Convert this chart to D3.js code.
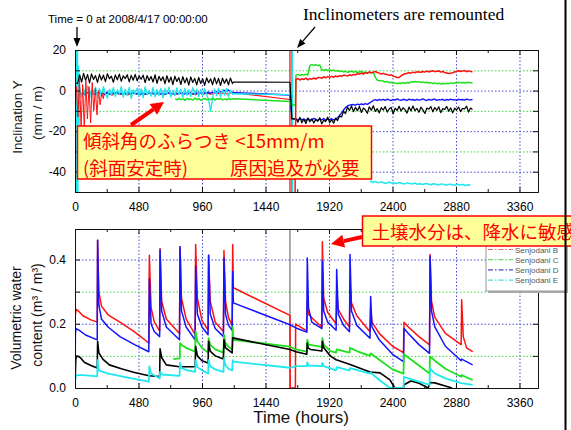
<!DOCTYPE html>
<html><head><meta charset="utf-8">
<script src="https://cdn.jsdelivr.net/npm/d3@7"></script>
<style>
html,body{margin:0;padding:0;background:#fff;}
svg{display:block;}
</style></head><body>
<svg id="c" width="571" height="430" font-family="Liberation Sans, Arial, sans-serif"></svg>
<script>
// ---------------- axis / tick data ----------------
const xMajorTicks = [0, 480, 960, 1440, 1920, 2400, 2880, 3360];
const xMinorTicks = [240, 720, 1200, 1680, 2160, 2640, 3120];
const incTicks = [-50, -40, -30, -20, -10, 0, 10, 20];
const incLabels = [-40, -20, 0, 20];
const incGreenGrid = [10, -10, -30];
const incBlueGrid = [0, -20, -40];
const vwcTicks = [0, 0.1, 0.2, 0.3, 0.4];
const vwcLabels = [0, 0.2, 0.4];
const vwcGreenGrid = [0.1, 0.3];
const vwcBlueGrid = [0.2, 0.4];
const remountHours = [1625, 1640];
const legendNames = ["Senjodani B", "Senjodani C", "Senjodani D", "Senjodani E"];

// ---------------- inclination (mm/m), sampled every 15 h unless paired ----------------
const STEP = 15;
const blackIncHead = [[8, 3.6]];
const blackInc1 = [3.5,7.8,4.2,8.5,5.0,7.9,3.8,8.2,5.5,7.4,4.0,8.0,5.2,7.6,4.4,8.3,5.8,7.1,4.1,7.7,
  5.3,8.1,4.6,7.3,5.9,7.8,4.3,7.5,5.1,8.0,4.8,7.2,5.6,7.6,3.9,7.4,5.0,6.9,4.2,7.8,
  3.6,7.0,4.9,6.8,3.4,7.3,4.1,6.6,2.9,7.1,4.5,6.4,3.0,6.9,3.8,6.2,2.7,6.7,4.0,6.0,
  2.8,6.5,3.5,5.9,2.6,6.3,3.9,5.8,2.9,6.4,3.3,6.0,2.5,6.1,3.6,5.7,2.8,6.2,3.4];
const blackIncMid = [[1197, 4.2], [1625, 4.1], [1640, -14.0]];
const blackInc2 = [-13.8,-15.6,-13.2,-15.9,-14.0,-16.2,-13.5,-15.4,-13.9,-16.0,-14.2,-15.1,-13.4,-16.4,-14.6,-15.2,-13.1,-15.8,-14.3,-16.1,-13.6,
  -14.8,-12.5,-13.0,-10.2,-11.4,-8.1,-9.8,-7.6,
  -10.4,-8.2,-9.9,-7.8,-10.8,-8.6,-9.5,-11.2,-8.0,-9.7,
  -7.5,-10.3,-8.9,-11.0,-8.4,-9.6,-7.9,-10.6,-9.1,-8.3,
  -11.4,-8.7,-9.8,-7.7,-10.1,-8.5,-9.4,-11.1,-8.1,-10.0,
  -7.6,-9.9,-8.8,-10.7,-8.2,-9.5,-11.3,-8.6,-9.2,-7.9,
  -10.5,-8.4,-9.7,-8.0,-10.9,-8.9,-9.3,-7.8,-10.2,-8.5,
  -11.0,-8.7,-9.6,-8.1,-10.4,-8.8,-9.1,-7.7,-10.6,-8.6,-9.4];

const blueInc1 = [-1.2,-0.6,-1.8,-1.0,-2.1,-1.3,-0.8,-1.7,-1.1,-1.9,-1.4,-0.9,-1.6,-1.2,-2.0,-1.0,-1.5,-1.8,-1.1,-1.4,
  -0.9,-1.7,-1.3,-1.9,-1.2,-1.6,-1.0,-1.8,-1.4,-1.1,-1.7,-1.3,-2.0,-1.2,-1.5,-1.8,-1.0,-1.6,-1.3,-1.9,
  -1.4,-1.1,-1.7,-1.2,-1.8,-1.5,-1.0,-1.6,-1.3,-1.9,-1.2,-1.7,-1.4,-1.1,-1.8,-1.3,-1.6,-1.0,-1.5,-1.7,
  -1.2,-1.4,-1.0,-1.6,-1.1,-1.3,-0.8,-1.4,-0.9,-1.2,-0.5,-1.0,-0.3,-0.9,0.2,-0.6,0.4,-0.4,-0.8,-1.0];
const blueIncMid = [[1205, -1.0], [1625, -2.2], [1640, -14.0]];
const blueInc2 = [-14.0,-14.6,-13.8,-14.4,-14.1,-14.7,-13.9,-14.3,-14.5,-13.7,-14.2,-14.8,-14.0,-14.4,-13.8,-14.6,-14.1,-14.3,-13.9,-14.5,-14.0,
  -13.5,-12.2,-11.0,-9.6,-8.4,-7.6,-7.2,-7.0,
  -6.9,-7.2,-6.7,-7.0,-6.6,-6.9,-6.4,-6.8,-6.2,-5.6,
  -4.8,-4.5,-4.9,-4.4,
  -4.7,-4.3,-4.8,-4.2,-4.6,-4.9,-4.4,-4.7,-4.1,-4.6,
  -4.8,-4.3,-4.5,-4.9,-4.2,-4.6,-4.4,-4.8,-4.3,-4.7,
  -4.5,-4.1,-4.6,-4.9,-4.3,-4.7,-4.4,-4.2,-4.8,-4.5,
  -4.6,-4.3,-4.9,-4.4,-4.7,-4.2,-4.6,-4.5,-4.8,-4.3,
  -4.6,-4.4,-4.7,-4.2,-4.5,-4.6,-4.4];

const greenInc1 = [-4.0,-4.6,-3.8,-4.5,-4.1,-4.8,-3.9,-4.4,-4.2,-4.7,
  -3.7,-4.5,-4.0,-4.8,-4.2,-3.9,-4.6,-4.1,-4.4,-3.8,
  -4.7,-4.0,-4.3,-3.9,-4.6,-4.2,-4.5,-3.8,-4.4,-4.1];
const greenIncMid = [[1200, -4.0], [1625, -5.4], [1630, -7.0], [1666, -7.2]];
const greenInc2 = [7.6,8.0,7.5,7.9,7.7,8.1,7.6,
  12.4,12.8,12.5,12.7,12.3,12.6,
  10.3,10.0,10.4,9.9,10.2,9.8,10.1,
  9.6,9.9,9.4,9.7,9.2,9.5,9.0,9.3,9.6,9.1,9.4,8.9,9.2,9.5,8.8,9.1,8.7,9.0,8.6,8.9,
  6.5,5.2,4.8,5.0,
  4.6,4.2,4.5,3.9,4.1,3.6,3.8,3.4,3.7,3.5,
  3.9,3.6,4.0,3.7,4.3,4.1,4.5,4.2,4.4,4.0,
  4.3,3.9,4.1,3.7,3.9,3.5,3.8,3.4,3.6,3.2,
  3.5,3.3,3.6,3.4,3.8,3.5,3.9,3.7,4.1,3.8,
  4.0,3.7,3.9,4.1,3.8,3.9];

const redIncSpikes = [2,-13,6,-18,3,-19,5,-14,2,-16,4,-10,1,-12,0,-7,-1,-4]; // every 12 h from 10 h
const redInc1 = [-1.8,-1.2,-2.3,-1.0,-1.9,-1.4,-2.2,-1.1,-1.7,-1.3,
  -2.0,-1.5,-1.1,-1.8,-1.4,-2.1,-1.2,-1.6,-1.9,-1.3,
  -1.7,-1.0,-1.5,-2.0,-1.2,-1.6,-1.4,-1.8,-1.1,-1.5,
  -1.3,-1.7,-1.0]; // every 30 h from 220 h
const redIncMid = [[1200, -1.0], [1625, -4.4]];
const redInc2Head = [[1664, -50]];
const redInc2 = [5.4,6.0,5.2,5.8,5.5,6.1,5.3,5.9,5.6,6.2,
  5.7,6.3,6.5,6.0,6.8,6.3,6.9,6.5,7.0,6.6,
  7.2,6.8,7.4,7.0,7.6,7.5,7.1,7.8,7.4,8.0,
  7.7,8.3,8.2,8.6,8.1,8.9,8.5,9.2,8.8,9.1,
  9.4,8.9,8.6,8.2,8.5,8.0,7.9,7.5,7.8,7.1,
  6.9,6.4,6.5,7.2,7.9,8.3,8.5,8.8,8.6,9.1,
  8.8,9.3,9.2,9.0,9.4,9.1,9.6,9.2,9.5,9.8,
  9.3,9.5,9.7,9.1,9.4,8.9,8.7,8.4,8.5,8.8,
  9.2,9.5,9.8,9.4,9.6,9.9,9.3,9.7,9.4,9.3];

const cyanIncHead = [[0,20],[2,-50],[4,20],[6,-50],[8,20],[10,-50],[13,20],[16,-50],[19,20],[22,-50],[26,12],[30,-20]];
const cyanInc1 = [1.5,-3.2,0.8,-2.6,2.1,-3.8,0.2,-2.0,1.7,-3.4,
  0.9,-2.8,1.9,-1.5,-3.6,0.6,-2.2,1.4,-3.0,0.3,
  -1.8,2.0,-3.3,0.7,-2.5,1.6,-3.9,0.4,-1.6,1.2,
  -2.9,0.8,-3.5,1.8,-2.1,0.1,-2.7,1.5,-3.1,0.5,
  -2.4,1.1,-3.6,0.9,-1.9,1.7,-3.2,0.2,-2.6,1.3,
  -2.0,0.6,-3.4,1.0,-2.3,0.3,-2.8,1.4,-1.7,0.7,
  -3.0,0.4,-2.4,0.9,-2.1,-4.5,-10.2,-3.8,0.8,-2.5,
  1.2,-3.1,0.4,-2.2,1.0,-2.9,0.2,-1.8]; // from 35 h
const cyanIncMid = [[1200, -1.6], [1640, -2.0], [1643, 20], [1646, -50]];
const cyanInc2 = [-44.6,-45.2,-44.8,-45.5,-45.0,-45.3,-45.8,-45.1,-45.6,-45.4,
  -45.9,-45.3,-45.7,-46.1,-45.5,-45.8,-46.0,-45.6,-46.2,-45.9,
  -46.3,-45.8,-46.1,-46.4,-45.9,-46.2,-46.5,-46.0,-46.3,-46.6,
  -46.1,-46.4,-46.7,-46.2,-46.5,-46.3,-46.8,-46.4,-46.6]; // every 20 h from 2230 h

// ---------------- volumetric water content [hour, m3/m3] ----------------
const vwcB = [[0,0.22],[8,0.245],[25,0.24],[60,0.225],[120,0.212],[168,0.205],[171,0.46],[180,0.3],[200,0.255],[250,0.228],[340,0.205],[450,0.175],[558,0.14],
  [562,0.413],[575,0.25],[600,0.205],[640,0.178],[643,0.434],[655,0.27],[690,0.215],[790,0.17],[794,0.44],[805,0.28],[840,0.215],[908,0.166],
  [912,0.447],[925,0.28],[960,0.21],[1006,0.18],[1010,0.413],[1022,0.27],[1060,0.205],[1122,0.176],[1126,0.428],[1138,0.27],[1160,0.22],[1188,0.195],
  [1192,0.447],[1197,0.312],[1625,0.226],[1627,0],[1666,0],[1668,0.199],[1752,0.178],[1756,0.27],[1765,0.23],[1800,0.215],[1866,0.19],
  [1870,0.455],[1880,0.28],[1910,0.235],[1974,0.2],[1978,0.3],[1990,0.245],[2030,0.215],[2075,0.19],[2079,0.33],[2090,0.265],[2130,0.225],[2230,0.175],
  [2235,0.25],[2245,0.205],[2300,0.17],[2400,0.13],[2483,0.11],[2487,0.205],[2520,0.19],[2600,0.16],[2680,0.134],[2684,0.416],[2695,0.27],[2720,0.22],
  [2800,0.17],[2919,0.135],[2923,0.275],[2935,0.16],[2960,0.125],[3006,0.113]];
const vwcC = [[743,0.09],[792,0.092],[794,0.14],[805,0.135],[840,0.125],[908,0.113],[912,0.176],[925,0.145],[960,0.125],[1006,0.11],[1010,0.155],[1022,0.135],
  [1060,0.12],[1122,0.11],[1126,0.165],[1138,0.14],[1160,0.128],[1188,0.12],[1192,0.19],[1197,0.15],[1625,0.129],[1670,0.12],[1752,0.113],[1756,0.15],
  [1765,0.135],[1866,0.128],[1870,0.155],[1880,0.135],[1930,0.115],[1974,0.11],[1978,0.12],[2030,0.115],[2075,0.11],[2079,0.125],[2130,0.115],[2230,0.1],
  [2235,0.108],[2300,0.088],[2400,0.058],[2483,0.045],[2487,0.105],[2520,0.095],[2600,0.07],[2680,0.045],[2684,0.098],[2720,0.085],[2800,0.06],[2919,0.035],
  [2923,0.04],[3006,0.025]];
const vwcD = [[0,0],[3,0.17],[8,0.185],[30,0.18],[80,0.165],[168,0.15],[171,0.46],[180,0.26],[200,0.215],[250,0.19],[340,0.16],[450,0.135],[558,0.113],
  [562,0.34],[575,0.2],[600,0.175],[640,0.16],[643,0.43],[655,0.24],[690,0.19],[790,0.15],[794,0.44],[805,0.24],[840,0.19],[908,0.15],
  [912,0.38],[925,0.23],[960,0.19],[1006,0.166],[1010,0.413],[1022,0.23],[1060,0.185],[1122,0.16],[1126,0.405],[1138,0.23],[1160,0.195],[1188,0.18],
  [1192,0.363],[1197,0.265],[1625,0.197],[1670,0.187],[1752,0.174],[1756,0.405],[1765,0.25],[1790,0.205],[1866,0.185],[1870,0.395],[1880,0.24],
  [1910,0.205],[1974,0.18],[1978,0.369],[1990,0.23],[2030,0.195],[2075,0.175],[2079,0.416],[2090,0.24],[2130,0.195],[2230,0.155],[2235,0.285],
  [2245,0.19],[2300,0.15],[2400,0.105],[2483,0.082],[2487,0.185],[2520,0.17],[2600,0.135],[2680,0.108],[2684,0.41],[2695,0.24],[2720,0.19],[2800,0.13],
  [2919,0.085],[2923,0.09],[3006,0.072]];
const vwcE = [[0,0],[3,0.03],[8,0.04],[60,0.04],[168,0.036],[171,0.087],[180,0.055],[250,0.045],[400,0.032],[558,0.02],[562,0.067],[575,0.045],[640,0.03],
  [643,0.05],[660,0.042],[790,0.038],[794,0.079],[805,0.062],[850,0.055],[908,0.05],[912,0.087],[925,0.065],[960,0.055],[1006,0.045],[1010,0.087],
  [1022,0.068],[1060,0.058],[1122,0.05],[1126,0.092],[1138,0.07],[1160,0.06],[1188,0.055],[1192,0.087],[1197,0.082],[1625,0.063],[1670,0.068],
  [1752,0.068],[1756,0.08],[1765,0.07],[1866,0.068],[1870,0.078],[1880,0.068],[1974,0.055],[1978,0.065],[2075,0.055],[2079,0.062],[2230,0.045],
  [2235,0.048],[2300,0.025],[2381,0],[2483,0],[2487,0.035],[2520,0.03],[2600,0.02],[2680,0.01],[2684,0.061],[2720,0.045],[2800,0.03],[2919,0.015],[3006,0.01]];
const vwcA = [[0,0],[3,0.05],[6,0.09],[15,0.1],[40,0.095],[70,0.08],[120,0.07],[168,0.062],[171,0.145],[180,0.11],[210,0.09],[260,0.072],[350,0.06],
  [450,0.048],[558,0.038],[640,0.036],[643,0.122],[655,0.095],[690,0.072],[790,0.066],[908,0.066],[912,0.13],[925,0.1],[960,0.085],[1006,0.078],
  [1010,0.145],[1022,0.115],[1060,0.1],[1122,0.09],[1126,0.15],[1138,0.125],[1188,0.109],[1192,0.156],[1625,0.12],[1670,0.113],[1752,0.105],
  [1756,0.14],[1762,0.125],[1780,0.12],[1866,0.115],[1870,0.145],[1880,0.125],[1930,0.1],[1974,0.088],[2030,0.08],[2100,0.07],[2230,0.05],
  [2306,0.047],[2381,0.025],[2419,0],[2483,0],[2487,0.01],[2540,0.022],[2600,0.015],[2670,0],[2684,0.017],[2720,0.016],[2800,0.006],[2850,0]];

// ---------------- colours ----------------
const RED = "#ff1010", GREEN = "#1ee01e", BLUE = "#1414ff", CYAN = "#1ee8ee", BLACK = "#000";
const GRID_BLUE = "#4848d8", GRID_GREEN = "#3ed83e";
const legendColors = ["#e86a6a", "#6ad86a", "#4a4ac4", "#4adede"];

// ---------------- scales ----------------
const svg = d3.select("#c");
const x = d3.scaleLinear().domain([0, 3500]).range([75, 538]);
const yInc = d3.scaleLinear().domain([-50, 20]).range([192, 50]);
const yVwc = d3.scaleLinear().domain([0, 0.495]).range([388, 229]);

const run = (start, vals, step = STEP) => vals.map((v, i) => [start + i * step, v]);

const defs = svg.append("defs");
[["clipTop", yInc], ["clipBot", yVwc]].forEach(([id, y]) => {
  defs.append("clipPath").attr("id", id).append("rect")
    .attr("x", x.range()[0]).attr("y", y.range()[1])
    .attr("width", x.range()[1] - x.range()[0]).attr("height", y.range()[0] - y.range()[1]);
});

function drawGrid(y, greens, blues) {
  const g = svg.append("g");
  const [yb, yt] = y.range();
  g.selectAll(".gv").data(xMajorTicks.filter(d => d > 0)).join("line")
    .attr("x1", d => x(d) + 0.5).attr("x2", d => x(d) + 0.5).attr("y1", yt).attr("y2", yb)
    .attr("stroke", GRID_BLUE).attr("stroke-dasharray", "1.5,2");
  g.selectAll(".gg").data(greens).join("line")
    .attr("x1", x.range()[0]).attr("x2", x.range()[1]).attr("y1", d => y(d) + 0.5).attr("y2", d => y(d) + 0.5)
    .attr("stroke", GRID_GREEN).attr("stroke-dasharray", "1.5,2");
  g.selectAll(".gb").data(blues).join("line")
    .attr("x1", x.range()[0]).attr("x2", x.range()[1]).attr("y1", d => y(d) + 0.5).attr("y2", d => y(d) + 0.5)
    .attr("stroke", GRID_BLUE).attr("stroke-dasharray", "1.5,2");
}

function drawLine(g, data, y, color, w) {
  const line = d3.line().defined(d => d[1] != null).x(d => x(d[0])).y(d => y(d[1]));
  g.append("path").datum(data).attr("d", line).attr("fill", "none")
    .attr("stroke", color).attr("stroke-width", w).attr("stroke-linejoin", "round");
}

function drawAxes(y, ticks, labels, fmt) {
  const [yb, yt] = y.range();
  const [xl, xr] = x.range();
  const style = g => {
    g.attr("font-size", 12).attr("font-family", "Liberation Sans, Arial, sans-serif");
    g.selectAll("line").attr("stroke", "#111");
    g.selectAll("path").attr("stroke", "#111");
    g.selectAll("text").attr("fill", "#000");
  };
  svg.append("g").attr("transform", `translate(0,${yb})`)
    .call(d3.axisBottom(x).tickValues(xMajorTicks).tickSizeInner(-5).tickSizeOuter(0).tickPadding(10).tickFormat(d3.format("d"))).call(style);
  svg.append("g").attr("transform", `translate(0,${yb})`)
    .call(d3.axisBottom(x).tickValues(xMinorTicks).tickSizeInner(-3).tickSizeOuter(0).tickFormat("")).call(style);
  svg.append("g").attr("transform", `translate(0,${yt})`)
    .call(d3.axisTop(x).tickValues(xMajorTicks).tickSizeInner(-5).tickSizeOuter(0).tickFormat("")).call(style);
  svg.append("g").attr("transform", `translate(0,${yt})`)
    .call(d3.axisTop(x).tickValues(xMinorTicks).tickSizeInner(-3).tickSizeOuter(0).tickFormat("")).call(style);
  svg.append("g").attr("transform", `translate(${xl},0)`)
    .call(d3.axisLeft(y).tickValues(ticks).tickSizeInner(-5).tickSizeOuter(0).tickPadding(9)
      .tickFormat(d => labels.some(l => Math.abs(l - d) < 1e-9) ? fmt(d) : "")).call(style);
  svg.append("g").attr("transform", `translate(${xr},0)`)
    .call(d3.axisRight(y).tickValues(ticks).tickSizeInner(-5).tickSizeOuter(0).tickFormat("")).call(style);
}

// ---------------- top chart ----------------
drawGrid(yInc, incGreenGrid, incBlueGrid);
const gTop = svg.append("g").attr("clip-path", "url(#clipTop)");
gTop.selectAll(".rm").data(remountHours).join("line")
  .attr("x1", d => x(d)).attr("x2", d => x(d)).attr("y1", yInc(20)).attr("y2", yInc(-50))
  .attr("stroke", RED).attr("stroke-width", 1.3);
drawLine(gTop, [...run(220, redInc1, 30), ...redIncMid], yInc, RED, 1.2);
drawLine(gTop, [...run(15, blueInc1), ...blueIncMid, ...run(1670, blueInc2)], yInc, BLUE, 1.4);
drawLine(gTop, [...cyanIncHead, ...run(35, cyanInc1), ...cyanIncMid], yInc, CYAN, 1.4);
drawLine(gTop, run(2230, cyanInc2, 20), yInc, CYAN, 1.5);
drawLine(gTop, [...run(757, greenInc1), ...greenIncMid, ...run(1670, greenInc2)], yInc, GREEN, 1.5);
drawLine(gTop, [...blackIncHead, ...run(20, blackInc1), ...blackIncMid, ...run(1670, blackInc2)], yInc, BLACK, 1.2);
drawLine(gTop, [...run(10, redIncSpikes, 12), [220, -1.8]], yInc, RED, 1);
drawLine(gTop, [...redInc2Head, ...run(1670, redInc2)], yInc, RED, 1.5);
drawAxes(yInc, incTicks, incLabels, d => String(d));

// ---------------- bottom chart ----------------
drawGrid(yVwc, vwcGreenGrid, vwcBlueGrid);
const gBot = svg.append("g").attr("clip-path", "url(#clipBot)");
gBot.append("line").attr("x1", x(remountHours[0])).attr("x2", x(remountHours[0]))
  .attr("y1", yVwc.range()[1]).attr("y2", yVwc.range()[0]).attr("stroke", "#555").attr("stroke-width", 1);
drawLine(gBot, vwcB, yVwc, RED, 1.5);
drawLine(gBot, vwcD, yVwc, BLUE, 1.5);
drawLine(gBot, vwcC, yVwc, GREEN, 1.8);
drawLine(gBot, vwcA, yVwc, BLACK, 1.6);
drawLine(gBot, vwcE, yVwc, CYAN, 1.8);
drawAxes(yVwc, vwcTicks, vwcLabels, d3.format(".1f"));

// ---------------- axis titles ----------------
function vlabel(cx, cy, text, size) {
  svg.append("text").attr("transform", `translate(${cx},${cy}) rotate(-90)`)
    .attr("text-anchor", "middle").attr("dy", "0.35em").attr("font-size", size).attr("fill", "#111").text(text);
}
vlabel(17, 117, "Inclination Y", 13.5);
vlabel(37, 113, "(mm / m)", 13.5);
vlabel(16, 318, "Volumetric water", 14);
vlabel(37, 315, "content (m³ / m³)", 14);
svg.append("text").attr("x", 301).attr("y", 423).attr("text-anchor", "middle")
  .attr("font-size", 17).attr("fill", "#111").text("Time (hours)");

// ---------------- annotations ----------------
function arrow(x1, y1, x2, y2, color, lw, hl, hw) {
  const dx = x2 - x1, dy = y2 - y1, L = Math.hypot(dx, dy), ux = dx / L, uy = dy / L;
  const bx = x2 - ux * hl, by = y2 - uy * hl;
  svg.append("line").attr("x1", x1).attr("y1", y1).attr("x2", bx).attr("y2", by)
    .attr("stroke", color).attr("stroke-width", lw);
  svg.append("path").attr("d", `M${x2},${y2}L${bx + uy * hw},${by - ux * hw}L${bx - uy * hw},${by + ux * hw}Z`).attr("fill", color);
}
svg.append("text").attr("x", 48).attr("y", 23).attr("font-size", 11.5).attr("fill", "#000")
  .text("Time = 0 at 2008/4/17 00:00:00");
arrow(x(0) + 2, 27, x(0) + 2, 47, "#000", 1.3, 9, 3.5);
svg.append("text").attr("x", 303).attr("y", 20).attr("font-family", "Liberation Serif, Times New Roman, serif")
  .attr("font-size", 17.5).attr("fill", "#000").text("Inclinometers are remounted");
arrow(315, 27, 297, 48, "#000", 1.2, 9, 3.5);

// legend (top entry hidden behind the callout)
const lg = svg.append("g");
lg.append("rect").attr("x", 488).attr("y", 240).attr("width", 80).attr("height", 53).attr("fill", "#aaa");
lg.append("rect").attr("x", 486).attr("y", 238).attr("width", 80).attr("height", 53).attr("fill", "#fff")
  .attr("stroke", "#999").attr("stroke-width", 1);
legendNames.forEach((n, i) => {
  const yy = 252.5 + i * 10.2;
  lg.append("line").attr("x1", 488).attr("x2", 513).attr("y1", yy - 3).attr("y2", yy - 3)
    .attr("stroke", legendColors[i]).attr("stroke-width", 1.2).attr("stroke-dasharray", "5,2,1.5,2");
  lg.append("text").attr("x", 515).attr("y", yy).attr("font-size", 8).attr("fill", "#555").text(n);
});

// yellow callouts
const CJK = "Noto Sans CJK JP, sans-serif";
svg.append("rect").attr("x", 77.5).attr("y", 126).attr("width", 294).attr("height", 53)
  .attr("fill", "#ffff99").attr("stroke", "#ff0000").attr("stroke-width", 1.5);
svg.append("text").attr("x", 83).attr("y", 148).attr("font-family", CJK).attr("font-size", 18.5).attr("fill", "#ff0000")
  .text("傾斜角のふらつき <15mm/m");
svg.append("text").attr("x", 83).attr("y", 174.5).attr("font-family", CJK).attr("font-size", 18.5).attr("fill", "#ff0000")
  .text("(斜面安定時)");
svg.append("text").attr("x", 230).attr("y", 174.5).attr("font-family", CJK).attr("font-size", 18.5).attr("fill", "#ff0000")
  .text("原因追及が必要");
arrow(131, 125, 164, 102, "#ff0000", 4, 13, 6.5);

svg.append("rect").attr("x", 362.5).attr("y", 216).attr("width", 215).attr("height", 30)
  .attr("fill", "#ffff99").attr("stroke", "#ff0000").attr("stroke-width", 1.5);
svg.append("text").attr("x", 371.5).attr("y", 239).attr("font-family", CJK).attr("font-size", 18.5).attr("fill", "#ff0000")
  .text("土壌水分は、降水に敏感");
arrow(362, 237, 331, 244, "#ff0000", 4, 13, 6.5);

// slide border line at right
svg.append("line").attr("x1", 565.5).attr("x2", 565.5).attr("y1", 0).attr("y2", 430)
  .attr("stroke", "#000").attr("stroke-width", 2);
</script></body></html>
